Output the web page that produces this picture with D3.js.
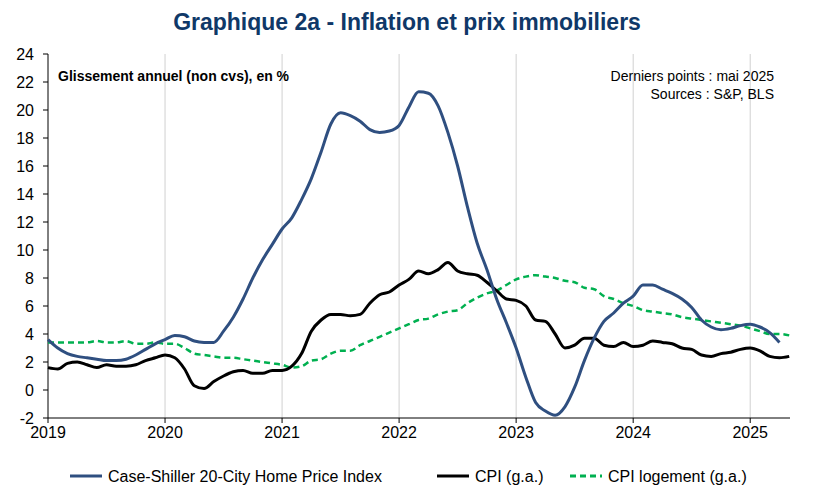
<!DOCTYPE html><html><head><meta charset="utf-8"><script src="https://d3js.org/d3.v7.min.js"></script>
<style>body{margin:0;background:#fff;font-family:"Liberation Sans",Arial,sans-serif}</style></head><body><svg id="c" width="815" height="504"></svg>
<script>
const caseShiller=[3.6,3.0,2.6,2.4,2.3,2.2,2.1,2.1,2.2,2.5,2.9,3.3,
3.6,3.9,3.8,3.5,3.4,3.4,4.2,5.2,6.5,8.0,9.3,10.4,
11.5,12.3,13.6,15.1,17.0,19.0,19.8,19.6,19.2,18.6,18.4,18.5,
18.9,20.2,21.3,21.2,20.3,18.4,16.0,13.1,10.5,8.6,6.5,4.8,
3.0,0.9,-0.9,-1.5,-1.8,-1.2,0.2,2.1,3.7,4.9,5.5,6.2,
6.7,7.5,7.5,7.2,6.9,6.5,5.9,5.0,4.5,4.3,4.4,4.6,
4.7,4.5,4.1,3.4];
const cpi=[1.6,1.5,1.9,2.0,1.8,1.6,1.8,1.7,1.7,1.8,2.1,2.3,
2.5,2.3,1.5,0.3,0.1,0.6,1.0,1.3,1.4,1.2,1.2,1.4,
1.4,1.7,2.6,4.2,5.0,5.4,5.4,5.3,5.4,6.2,6.8,7.0,
7.5,7.9,8.5,8.3,8.6,9.1,8.5,8.3,8.2,7.7,7.1,6.5,
6.4,6.0,5.0,4.9,4.0,3.0,3.2,3.7,3.7,3.2,3.1,3.4,
3.1,3.2,3.5,3.4,3.3,3.0,2.9,2.5,2.4,2.6,2.7,2.9,
3.0,2.8,2.4,2.3,2.4];
const cpiShelter=[3.4,3.4,3.4,3.4,3.4,3.5,3.4,3.4,3.5,3.3,3.3,3.4,
3.3,3.3,3.0,2.6,2.5,2.4,2.3,2.3,2.2,2.1,2.0,1.9,
1.8,1.6,1.7,2.1,2.2,2.6,2.8,2.8,3.2,3.5,3.8,4.1,
4.4,4.7,5.0,5.1,5.4,5.6,5.7,6.2,6.6,6.9,7.1,7.5,
7.9,8.1,8.2,8.1,8.0,7.8,7.7,7.3,7.2,6.7,6.5,6.2,
6.0,5.7,5.6,5.5,5.4,5.2,5.1,5.0,4.9,4.8,4.7,4.6,
4.4,4.2,4.0,4.0,3.9];
const yearTicks=[2019,2020,2021,2022,2023,2024,2025];
const yTicks=d3.range(-2,25,2);
const svg=d3.select("#c");
const x=d3.scaleLinear().domain([2019,2025.34]).range([48,790]);
const y=d3.scaleLinear().domain([-2,24]).range([418,54]);
const t=i=>2019+i/12;
svg.append("text").attr("x",407).attr("y",30).attr("text-anchor","middle").attr("font-size",23).attr("font-weight","bold").attr("fill","#0f3868").text("Graphique 2a - Inflation et prix immobiliers");
svg.append("g").selectAll("line").data(yearTicks.slice(1)).join("line").attr("x1",d=>x(d)).attr("x2",d=>x(d)).attr("y1",54).attr("y2",418).attr("stroke","#d0d0d0");
svg.append("line").attr("x1",48).attr("x2",48).attr("y1",54).attr("y2",418).attr("stroke","#000");
svg.append("line").attr("x1",48).attr("x2",790).attr("y1",418).attr("y2",418).attr("stroke","#000");
svg.append("g").selectAll("text").data(yTicks).join("text").attr("x",34).attr("y",d=>y(d)+6).attr("text-anchor","end").attr("font-size",16).text(d=>d);
svg.append("g").selectAll("line").data(yTicks).join("line").attr("x1",43).attr("x2",48).attr("y1",d=>y(d)).attr("y2",d=>y(d)).attr("stroke","#000");
svg.append("g").selectAll("text").data(yearTicks).join("text").attr("x",d=>x(d)).attr("y",438).attr("text-anchor","middle").attr("font-size",16).text(d=>d);
svg.append("g").selectAll("line").data(yearTicks).join("line").attr("x1",d=>x(d)).attr("x2",d=>x(d)).attr("y1",418).attr("y2",423).attr("stroke","#000");
const line=d3.line().x((d,i)=>x(t(i))).y(d=>y(d)).curve(d3.curveMonotoneX);
svg.append("path").attr("d",line(cpiShelter)).attr("fill","none").attr("stroke","#00b050").attr("stroke-width",2.5).attr("stroke-dasharray","6,4");
svg.append("path").attr("d",line(cpi)).attr("fill","none").attr("stroke","#000").attr("stroke-width",3);
svg.append("path").attr("d",line(caseShiller)).attr("fill","none").attr("stroke","#2f4f80").attr("stroke-width",3);
svg.append("text").attr("x",58).attr("y",81).attr("font-size",14).attr("font-weight","bold").text("Glissement annuel (non cvs), en %");
svg.append("text").attr("x",774).attr("y",81).attr("text-anchor","end").attr("font-size",14).text("Derniers points : mai 2025");
svg.append("text").attr("x",774).attr("y",99).attr("text-anchor","end").attr("font-size",14).text("Sources : S&P, BLS");
const leg=[["Case-Shiller 20-City Home Price Index","#2f4f80",null,70],["CPI (g.a.)","#000",null,437],["CPI logement (g.a.)","#00b050","6,4",570]];
leg.forEach(([l,c,da,lx])=>{svg.append("line").attr("x1",lx).attr("x2",lx+32).attr("y1",476).attr("y2",476).attr("stroke",c).attr("stroke-width",3).attr("stroke-dasharray",da);
svg.append("text").attr("x",lx+38).attr("y",482).attr("font-size",16).text(l);});
</script></body></html>
